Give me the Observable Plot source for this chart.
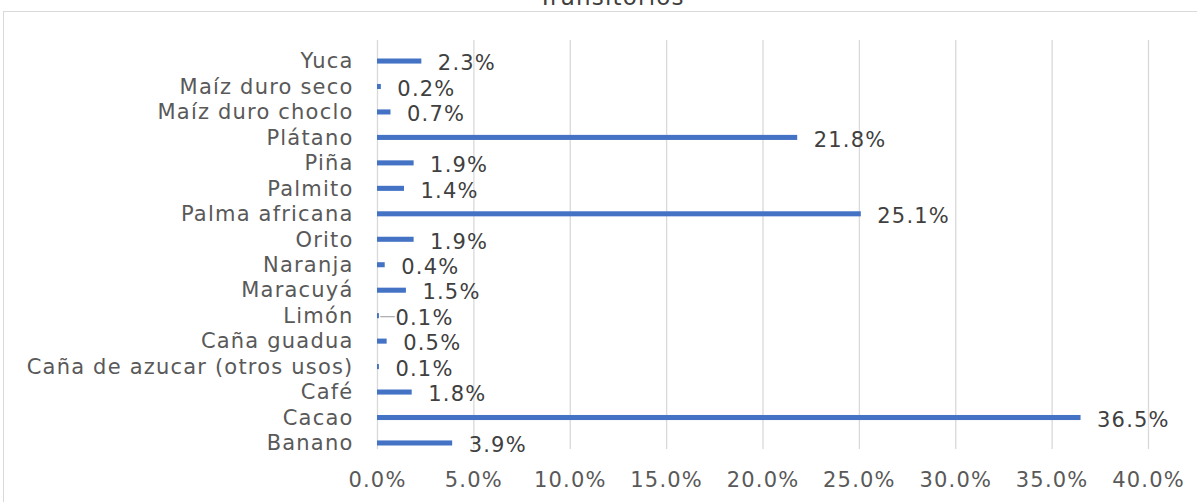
<!DOCTYPE html>
<html><head><meta charset="utf-8">
<script src="https://cdn.jsdelivr.net/npm/d3@7"></script>
<script src="https://cdn.jsdelivr.net/npm/@observablehq/plot@0.6"></script>
<style>
html,body{margin:0;padding:0;background:#fff;overflow:hidden;width:1197px;height:502px;}
#frame{position:absolute;left:3px;top:11px;width:1200px;height:500px;border:1px solid #d9d9d9;box-sizing:border-box;}
#title{position:absolute;left:13px;width:1197px;top:-16px;text-align:center;font-family:"DejaVu Sans",sans-serif;font-size:23px;letter-spacing:1.2px;color:#404040;}
#chart{position:absolute;left:0;top:0;}
#chart svg text{letter-spacing:1.2px;}
</style></head>
<body>
<div id="frame"></div>
<div id="title">Transitorios</div>
<div id="chart"></div>
<script>
const crops = ["Yuca","Maíz duro seco","Maíz duro choclo","Plátano","Piña","Palmito","Palma africana","Orito","Naranja","Maracuyá","Limón","Caña guadua","Caña de azucar (otros usos)","Café","Cacao","Banano"];
const shares = [0.023,0.002,0.007,0.218,0.019,0.014,0.251,0.019,0.004,0.015,0.001,0.005,0.001,0.018,0.365,0.039];
const xTicks = [0,0.05,0.10,0.15,0.20,0.25,0.30,0.35,0.40];
const data = crops.map((c,i)=>({crop:c, value:shares[i]}));
const limon = data.filter(d=>d.crop==="Limón");

const chart = Plot.plot({
  width:1197, height:502,
  marginLeft:377, marginRight:49, marginTop:40, marginBottom:53,
  style:{fontFamily:"DejaVu Sans, sans-serif", fontSize:"21px", color:"#595959", background:"transparent"},
  x:{domain:[0,0.40], ticks:xTicks, tickFormat:d3.format(".1%"), grid:false, label:null},
  y:{domain:crops, range:[48.3,455.7], padding:0, round:false, label:null},
  marks:[
    Plot.ruleX(xTicks,{stroke:"#d9d9d9", strokeWidth:1.3}),
    Plot.axisX({ticks:xTicks, tickFormat:d3.format(".1%"), tickSize:0, tickPadding:23, label:null, fill:"#595959"}),
    Plot.axisY({tickSize:0, tickPadding:24, label:null, fill:"#595959"}),
    Plot.barX(data,{y:"crop", x:"value", fill:"#4472C4", insetTop:10.2, insetBottom:10.2}),
    Plot.text(limon,{y:"crop", x:"value", text:()=>"—", textAnchor:"start", dx:0, dy:0, fill:"#b0b0b0", fontSize:16}),
    Plot.text(data,{y:"crop", x:"value", text:d=>d3.format(".1%")(d.value), textAnchor:"start", dx:16, dy:2, fill:"#404040", fontSize:21})
  ]
});
document.getElementById("chart").appendChild(chart);
</script>
</body></html>
